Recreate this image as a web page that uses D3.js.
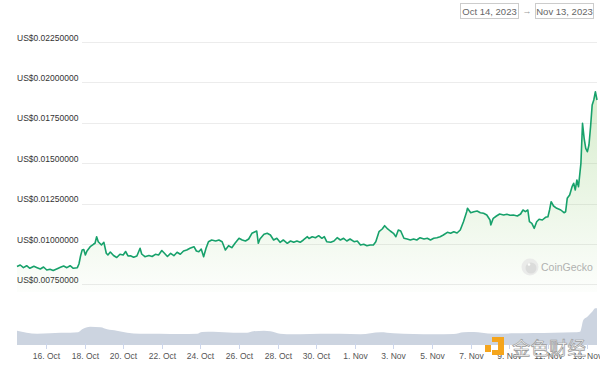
<!DOCTYPE html>
<html>
<head>
<meta charset="utf-8">
<script src="https://cdn.jsdelivr.net/npm/d3@7"></script>
<style>
  html, body { margin: 0; padding: 0; background: #fff; }
  svg { display: block; font-family: "Liberation Sans", Arial, sans-serif; }
</style>
</head>
<body>
<svg id="chart" width="600" height="370"></svg>
<script>
// ---- data ----
// hours since 2023-10-14 00:00 UTC, price in USD
const priceHours = [12,16,20,24,28,33,37,41,45,49,53,57,62,66,70,74,78,82,87,89,91,93,95,97,99,103,107,109,111,113,117,120,123,125,128,132,136,140,144,147,150,153,157,161,165,167,171,176,180,184,188,192,195,
199,203,207,211,215,219,223,227,232,235,238,241,244,247,250,254,259,263,267,271,275,279,283,288,292,296,300,304,308,310,312,314,319,323,327,331,335,339,343,348,352,356,360,364,368,373,
375,379,383,387,391,394,397,402,406,410,414,418,422,426,431,435,439,443,447,451,455,458,462,466,469,472,476,480,483,486,489,493,497,501,505,509,513,518,522,526,530,534,538,542,547,551,555,
559,563,567,571,572,576,580,584,588,592,596,600,601,604,608,612,617,621,625,629,634,638,641,644,647,649,652,655,658,661,665,669,672,674,676,679,683,688,692,694,696,699,702,704,706,708,710,713,715,717,719,721,723,725,727,729,731,733];
const priceValues = [0.008608,0.008701,0.008534,0.008657,0.008496,0.008620,0.008534,0.008453,0.008577,0.008391,0.008434,0.008360,0.008472,0.008558,0.008639,0.008534,0.008657,0.008496,0.008534,0.008763,0.009258,0.009629,0.009660,0.009320,0.009567,0.009833,0.009982,0.010044,0.010452,0.010143,0.009938,0.010105,0.009425,0.009320,0.009505,0.009289,0.009165,0.009363,0.009320,0.009536,0.009258,0.009276,0.009177,0.009258,0.009734,0.009381,0.009214,0.009289,0.009227,0.009363,0.009320,0.009598,0.009443,
0.009227,0.009425,0.009276,0.009487,0.009363,0.009567,0.009629,0.009734,0.009833,0.009567,0.009524,0.009691,0.009214,0.009734,0.010143,0.010248,0.010186,0.010248,0.010143,0.009629,0.009895,0.009772,0.010044,0.010353,0.010248,0.010186,0.010310,0.010662,0.010761,0.010805,0.010044,0.010310,0.010600,0.010662,0.010557,0.010248,0.010353,0.010105,0.010248,0.010044,0.010186,0.010105,0.010186,0.010105,0.010248,0.010452,
0.010341,0.010452,0.010390,0.010514,0.010353,0.010452,0.010143,0.010105,0.010186,0.010390,0.010248,0.010353,0.010186,0.010310,0.010143,0.010186,0.009938,0.009982,0.009895,0.009938,0.009938,0.010143,0.010761,0.010928,0.011133,0.010972,0.010805,0.010662,0.010452,0.010867,0.010805,0.010353,0.010310,0.010248,0.010310,0.010248,0.010390,0.010310,0.010353,0.010248,0.010353,0.010390,0.010452,0.010557,0.010724,0.010662,0.010761,
0.010681,0.010867,0.011380,0.011999,0.012209,0.011937,0.011999,0.012042,0.011937,0.011900,0.011795,0.011485,0.011176,0.011591,0.011733,0.011857,0.011795,0.011838,0.011776,0.011795,0.011733,0.011857,0.012104,0.011999,0.012104,0.011380,0.011281,0.010972,0.011380,0.011529,0.011485,0.011652,0.011690,0.012104,0.012618,0.012352,0.012209,0.012104,0.011937,0.011999,0.012828,0.013032,0.013546,0.013756,0.013342,0.013961,0.013546,0.014994,0.017469,0.016541,0.015922,0.015712,0.016126,0.017259,0.018602,0.018911,0.019425,0.018911];

// volume, thousand USD (estimated)
const volumeHours  = [12,24,37,53,66,78,88,93,103,116,124,136,149,165,190,215,236,242,256,269,281,298,306,319,327,339,356,364,389,414,439,464,480,505,530,555,567,580,590,605,630,654,679,704,712,716,721,727,731,733];
const volumeValues = [429,369,339,351,369,369,381,471,549,531,471,429,369,339,339,330,339,390,399,381,369,369,411,429,411,339,321,321,339,339,321,381,351,330,321,330,381,390,369,339,351,360,369,381,399,750,849,999,1101,1101];

const yTickValues = [0.0075, 0.01, 0.0125, 0.015, 0.0175, 0.02, 0.0225];
const xTickDates = ["2023-10-16","2023-10-18","2023-10-20","2023-10-22","2023-10-24","2023-10-26","2023-10-28","2023-10-30","2023-11-01","2023-11-03","2023-11-05","2023-11-07","2023-11-09","2023-11-11","2023-11-13"];
const dateRange = ["Oct 14, 2023", "Nov 13, 2023"];
const startTime = Date.UTC(2023, 9, 14);

// ---- build ----
const toDate = h => new Date(startTime + h * 3600 * 1000);
const price = priceHours.map((h, i) => ({ date: toDate(h), value: priceValues[i] }));
const volume = volumeHours.map((h, i) => ({ date: toDate(h), value: volumeValues[i] }));

const svg = d3.select("#chart");
const lineColor = "#17a16b";

const x = d3.scaleUtc().domain(d3.extent(price, d => d.date)).range([17, 597]);
const y = d3.scaleLinear().domain([0.0075, 0.0225]).range([284.4, 42]);
const yv = d3.scaleLinear().domain([0, 1200]).range([345, 305]);

// gradient
const defs = svg.append("defs");
const grad = defs.append("linearGradient").attr("id", "fillGrad")
  .attr("gradientUnits", "userSpaceOnUse").attr("x1", 0).attr("y1", 80).attr("x2", 0).attr("y2", 292);
grad.append("stop").attr("offset", "0%").attr("stop-color", "#7cc35a").attr("stop-opacity", 0.32);
grad.append("stop").attr("offset", "100%").attr("stop-color", "#7cc35a").attr("stop-opacity", 0.02);

// grid lines
svg.append("g").selectAll("line").data(yTickValues).join("line")
  .attr("x1", 82).attr("x2", 597)
  .attr("y1", d => Math.round(y(d)) + 0.5).attr("y2", d => Math.round(y(d)) + 0.5)
  .attr("stroke", "#ececec").attr("stroke-width", 1);

// y labels
svg.append("g").selectAll("text").data(yTickValues).join("text")
  .attr("x", 17).attr("y", d => y(d) - 1.5)
  .attr("font-size", 8.5).attr("fill", "#333")
  .text(d => "US$" + d3.format(".8f")(d));

// price area + line
svg.append("path").datum(price)
  .attr("fill", "url(#fillGrad)")
  .attr("d", d3.area().x(d => x(d.date)).y0(292).y1(d => y(d.value)));
svg.append("path").datum(price)
  .attr("fill", "none").attr("stroke", lineColor).attr("stroke-width", 1.6)
  .attr("stroke-linejoin", "round")
  .attr("d", d3.line().x(d => x(d.date)).y(d => y(d.value)));

// volume
svg.append("path").datum(volume)
  .attr("fill", "#ccd4e0")
  .attr("d", d3.area().curve(d3.curveMonotoneX).x(d => x(d.date)).y0(yv(0)).y1(d => yv(d.value)));

// x axis ticks & labels
const fmt = d3.utcFormat("%-d. %b");
const xt = svg.append("g");
xTickDates.forEach(s => {
  const d = new Date(s + "T00:00:00Z");
  const px = Math.round(x(d)) + 0.5;
  xt.append("line").attr("x1", px).attr("x2", px).attr("y1", 343).attr("y2", 349)
    .attr("stroke", "#ccd6eb").attr("stroke-width", 1);
  xt.append("text").attr("x", px).attr("y", 358.5).attr("text-anchor", "middle")
    .attr("font-size", 8.5).attr("fill", "#555").text(fmt(d));
});

// date range boxes
const boxes = [{ x: 460.5, text: dateRange[0] }, { x: 535.5, text: dateRange[1] }];
boxes.forEach(b => {
  svg.append("rect").attr("x", b.x).attr("y", 3.5).attr("width", 58).attr("height", 15)
    .attr("fill", "#fff").attr("stroke", "#cccccc").attr("stroke-width", 1);
  svg.append("text").attr("x", b.x + 29).attr("y", 14.5).attr("text-anchor", "middle")
    .attr("font-size", 9.5).attr("fill", "#666").text(b.text);
});
svg.append("text").attr("x", 527).attr("y", 14).attr("text-anchor", "middle")
  .attr("font-size", 9).attr("fill", "#999").text("→");

// CoinGecko watermark
const wm = svg.append("g").attr("opacity", 0.75);
wm.append("circle").attr("cx", 530).attr("cy", 267).attr("r", 8.5).attr("fill", "#e6e6e6");
wm.append("circle").attr("cx", 531).attr("cy", 268).attr("r", 5.5).attr("fill", "#d2d2d2");
wm.append("circle").attr("cx", 529).attr("cy", 264.5).attr("r", 1.3).attr("fill", "#fff");
wm.append("text").attr("x", 541).attr("y", 270.5).attr("font-size", 10.5).attr("fill", "#999").text("CoinGecko");

// 金色财经 watermark
const jw = svg.append("g");
jw.append("rect").attr("x", 485).attr("y", 345).attr("width", 6).attr("height", 7).attr("fill", "#f5a51c");
jw.append("path").attr("fill", "#f5a51c")
  .attr("d", "M492,337 H504 V355 H492 V350 H498 V342 H492 Z");
jw.append("text").attr("x", 512).attr("y", 355).attr("font-size", 18.5)
  .attr("font-family", "'Noto Sans CJK SC', sans-serif")
  .attr("fill", "rgba(255,255,255,0.92)").attr("stroke", "#9a9a9a").attr("stroke-width", 0.7)
  .text("金色财经");
</script>
</body>
</html>
